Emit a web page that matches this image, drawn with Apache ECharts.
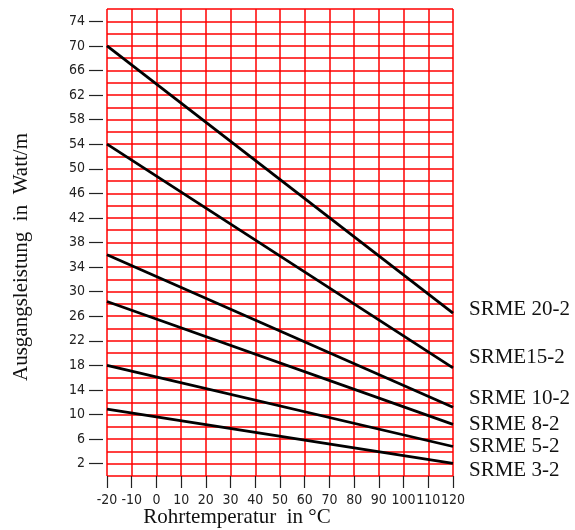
<!DOCTYPE html>
<html>
<head>
<meta charset="utf-8">
<script src="https://cdn.jsdelivr.net/npm/echarts@6/dist/echarts.min.js"></script>
<style>
html,body{margin:0;padding:0;background:#fff;}
#chart{width:575px;height:530px;}
</style>
</head>
<body>
<div id="chart"></div>
<script>
// Data
var temps = [-20, 120];
var seriesNames = ['SRME 20-2', 'SRME15-2', 'SRME 10-2', 'SRME 8-2', 'SRME 5-2', 'SRME 3-2'];
var srme20 = [70, 26.5];
var srme15 = [54, 17.6];
var srme10 = [36, 11.2];
var srme8 = [28.4, 8.4];
var srme5 = [18, 4.8];
var srme3 = [10.9, 2.05];
// y grid steps (every 2 from 0 to 76); labels/ticks on 2, 6, 10, ... 74
var yGrid = ['0','2','4','6','8','10','12','14','16','18','20','22','24','26','28','30','32','34','36','38',
             '40','42','44','46','48','50','52','54','56','58','60','62','64','66','68','70','72','74','76'];

var allValues = [srme20, srme15, srme10, srme8, srme5, srme3];
var labelDy = [-4, -10, -9, 0, 0, 7];

var serif = "'Liberation Serif', 'DejaVu Serif', serif";
var narrow = "'Liberation Sans Narrow', 'DejaVu Sans Condensed', sans-serif";

function zip(xs, ys) {
  return xs.map(function (x, i) { return [x, ys[i]]; });
}
function isLabelled(index, value) {
  return (Number(value) - 2) % 4 === 0;
}

var series = allValues.map(function (vals, i) {
  return {
    type: 'line',
    name: seriesNames[i],
    yAxisIndex: 0,
    data: zip(temps, vals),
    symbol: 'none',
    lineStyle: { color: '#000', width: 2.8 },
    silent: true,
    endLabel: {
      show: true,
      formatter: seriesNames[i],
      fontFamily: serif,
      fontSize: 21,
      color: '#111',
      distance: 16,
      offset: [0, labelDy[i]]
    }
  };
});

var chart = echarts.init(document.getElementById('chart'), null, { renderer: 'canvas' });
chart.setOption({
  animation: false,
  backgroundColor: '#fff',
  grid: { left: 107, right: 122, top: 9, bottom: 54, containLabel: false },
  xAxis: {
    type: 'value',
    min: -20, max: 120, interval: 10,
    axisLine: { show: false },
    offset: 2,
    axisTick: { show: true, length: 12, lineStyle: { color: '#222', width: 1.2 } },
    axisLabel: { color: '#222', fontFamily: narrow, fontSize: 14, margin: 15 },
    splitLine: { show: true, lineStyle: { color: '#ff0000', width: 1.5 } }
  },
  yAxis: [
    {
      type: 'value',
      min: 0, max: 76, interval: 2,
      axisLine: { show: false },
      axisTick: { show: false },
      axisLabel: { show: false },
      splitLine: { show: true, lineStyle: { color: '#ff0000', width: 1.5 } }
    },
    {
      type: 'category',
      data: yGrid,
      boundaryGap: false,
      position: 'left',
      offset: 4,
      axisLine: { show: false },
      axisTick: { show: true, length: 14, interval: isLabelled, lineStyle: { color: '#222', width: 1.2 } },
      axisLabel: { color: '#222', fontFamily: narrow, fontSize: 14, margin: 18, interval: isLabelled },
      splitLine: { show: false }
    }
  ],
  graphic: [
    {
      type: 'text',
      style: {
        text: 'Ausgangsleistung  in  Watt/m',
        fontFamily: serif, fontSize: 21, fill: '#111',
        align: 'center', verticalAlign: 'middle'
      },
      x: 21, y: 257, rotation: Math.PI / 2
    },
    {
      type: 'text',
      style: {
        text: 'Rohrtemperatur  in °C',
        fontFamily: serif, fontSize: 21, fill: '#111',
        align: 'center', verticalAlign: 'middle'
      },
      x: 237, y: 517
    }
  ],
  series: series
});
</script>
</body>
</html>
